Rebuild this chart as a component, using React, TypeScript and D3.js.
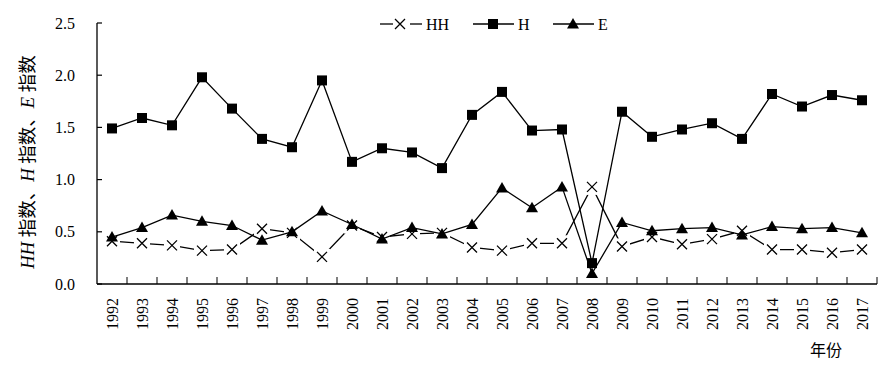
import React from 'react';
import * as d3 from 'd3';

const years = ['1992', '1993', '1994', '1995', '1996', '1997', '1998', '1999', '2000', '2001', '2002', '2003', '2004',
  '2005', '2006', '2007', '2008', '2009', '2010', '2011', '2012', '2013', '2014', '2015', '2016', '2017'];
const hhValues = [0.41, 0.39, 0.37, 0.32, 0.33, 0.53, 0.49, 0.26, 0.56, 0.45, 0.48, 0.49, 0.35,
  0.32, 0.39, 0.39, 0.93, 0.36, 0.45, 0.38, 0.43, 0.51, 0.33, 0.33, 0.30, 0.33];
const hValues = [1.49, 1.59, 1.52, 1.98, 1.68, 1.39, 1.31, 1.95, 1.17, 1.30, 1.26, 1.11, 1.62,
  1.84, 1.47, 1.48, 0.20, 1.65, 1.41, 1.48, 1.54, 1.39, 1.82, 1.70, 1.81, 1.76];
const eValues = [0.45, 0.54, 0.66, 0.60, 0.56, 0.42, 0.50, 0.70, 0.57, 0.43, 0.54, 0.48, 0.57,
  0.92, 0.73, 0.93, 0.10, 0.59, 0.51, 0.53, 0.54, 0.47, 0.55, 0.53, 0.54, 0.49];
const yTicks = [0, 0.5, 1.0, 1.5, 2.0, 2.5];

const W = 885, H = 366;
const margin = { top: 23, right: 8, bottom: 82, left: 97 };
const font = '"Liberation Serif", "Times New Roman", "Noto Sans CJK SC", serif';

// marker shapes
const xMark = (cx: number, cy: number, r = 5) =>
  `M${cx - r},${cy - r}L${cx + r},${cy + r}M${cx - r},${cy + r}L${cx + r},${cy - r}`;
const triangle = (cx: number, cy: number) =>
  `M${cx},${cy - 6}L${cx + 6},${cy + 4.5}L${cx - 6},${cy + 4.5}Z`;

export default function App() {
  const x = d3.scaleBand().domain(years).range([margin.left, W - margin.right]);
  const y = d3.scaleLinear().domain([0, 2.5]).range([H - margin.bottom, margin.top]);
  const cx = (d: string) => (x(d) as number) + x.bandwidth() / 2;

  const line = d3.line<number>()
    .x((_, i) => cx(years[i]))
    .y((d) => y(d));

  const x0 = margin.left, x1 = W - margin.right, yb = H - margin.bottom;
  const boundaries = years.slice(1).map((d) => x(d) as number).concat([x1]);

  return (
    <svg width={W} height={H} style={{ position: 'absolute', left: 0, top: 0, background: '#fff' }}
      fontFamily={font}>
      {/* axes */}
      <line x1={x0} x2={x0} y1={y(2.5)} y2={yb} stroke="#000" strokeWidth={1.3} />
      {yTicks.map((t) => (
        <line key={t} x1={x0} x2={x0 + 5} y1={y(t)} y2={y(t)} stroke="#000" strokeWidth={1.2} />
      ))}
      <line x1={x0} x2={x1} y1={yb} y2={yb} stroke="#000" strokeWidth={1.3} />
      {boundaries.map((b, i) => (
        <line key={i} x1={b} x2={b} y1={yb} y2={yb - 7} stroke="#000" strokeWidth={1} />
      ))}
      {yTicks.map((t) => (
        <text key={t} x={75} y={y(t)} textAnchor="end" dominantBaseline="central" fontSize={16}>
          {t.toFixed(1)}
        </text>
      ))}
      {years.map((d) => (
        <text key={d} transform={`translate(${cx(d)},${yb + 14}) rotate(-90)`} textAnchor="end"
          dominantBaseline="central" fontSize={16}>{d}</text>
      ))}
      <text x={826} y={350} textAnchor="middle" dominantBaseline="central" fontSize={16}>年份</text>
      <text transform={`translate(28,${162}) rotate(-90)`} textAnchor="middle"
        dominantBaseline="central" fontSize={18.5}>
        <tspan fontStyle="italic">HH</tspan>{' '}指数、<tspan fontStyle="italic">H</tspan>{' '}指数、<tspan fontStyle="italic">E</tspan>{' '}指数
      </text>

      {/* HH series */}
      <path d={line(hhValues) as string} fill="none" stroke="#000" strokeWidth={1.3} />
      {hhValues.map((v, i) => (
        <g key={i}>
          <rect x={cx(years[i]) - 8} y={y(v) - 8} width={16} height={16} fill="#fff" />
          <path d={xMark(cx(years[i]), y(v))} stroke="#000" strokeWidth={1.3} />
        </g>
      ))}

      {/* H series */}
      <path d={line(hValues) as string} fill="none" stroke="#000" strokeWidth={1.3} />
      {hValues.map((v, i) => (
        <rect key={i} x={cx(years[i]) - 5} y={y(v) - 5} width={10} height={10} fill="#000" />
      ))}

      {/* E series */}
      <path d={line(eValues) as string} fill="none" stroke="#000" strokeWidth={1.3} />
      {eValues.map((v, i) => (
        <path key={i} d={triangle(cx(years[i]), y(v))} fill="#000" />
      ))}

      {/* legend */}
      <g fontSize={16}>
        <line x1={380} x2={393} y1={24} y2={24} stroke="#000" strokeWidth={1.3} />
        <line x1={410} x2={422} y1={24} y2={24} stroke="#000" strokeWidth={1.3} />
        <path d={xMark(400, 24)} stroke="#000" strokeWidth={1.3} />
        <text x={426} y={24} dominantBaseline="central">HH</text>
        <line x1={473} x2={514} y1={24} y2={24} stroke="#000" strokeWidth={1.3} />
        <rect x={488} y={19} width={10} height={10} fill="#000" />
        <text x={518} y={24} dominantBaseline="central">H</text>
        <line x1={553} x2={594} y1={24} y2={24} stroke="#000" strokeWidth={1.3} />
        <path d={triangle(573, 24)} fill="#000" />
        <text x={598} y={24} dominantBaseline="central">E</text>
      </g>
    </svg>
  );
}
